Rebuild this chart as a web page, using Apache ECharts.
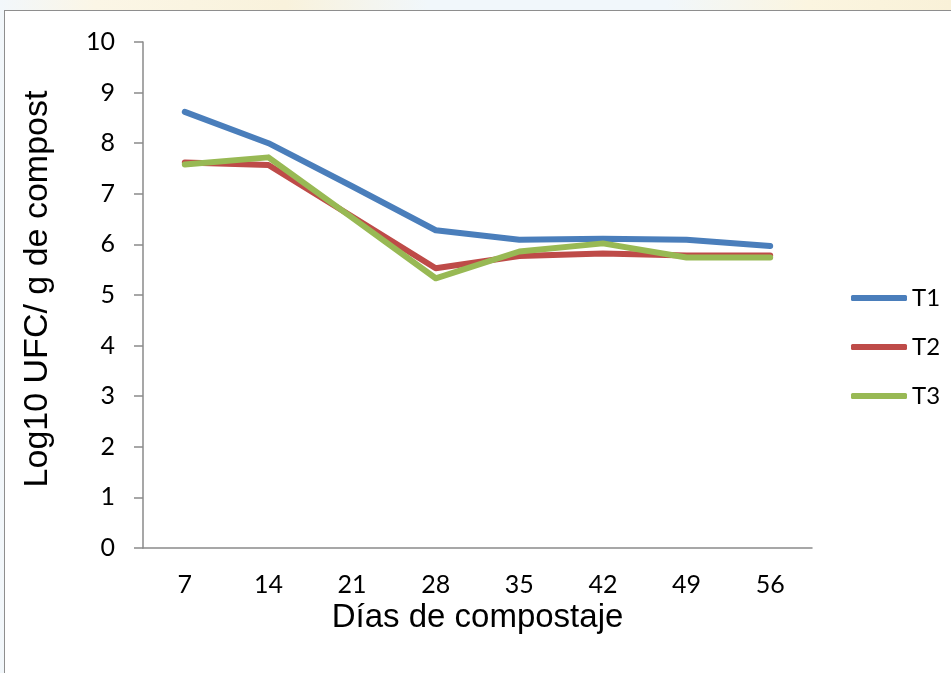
<!DOCTYPE html>
<html>
<head>
<meta charset="utf-8">
<script src="https://cdn.jsdelivr.net/npm/echarts@6/dist/echarts.min.js"></script>
<style>
  html, body { margin: 0; padding: 0; width: 951px; height: 673px; overflow: hidden; }
  body {
    background: linear-gradient(90deg, #f2f7fb 0%, #fbf6e6 10%, #f9f2dc 30%, #f1f7fb 45%, #f1f7fb 70%, #fbf5e0 85%, #f9f1d8 100%);
  }
  #panel {
    position: absolute; left: 4px; top: 10px; width: 960px; height: 680px;
    background: #ffffff; border-left: 1.5px solid #8e8e8e; border-top: 1.5px solid #8e8e8e;
  }
  #chart { position: absolute; left: 0; top: 0; width: 951px; height: 673px; }
</style>
</head>
<body>
<div id="panel"></div>
<div id="chart"></div>
<script>
// Days of composting (category axis)
const days = ['7', '14', '21', '28', '35', '42', '49', '56'];

// Log10 CFU per gram of compost for each treatment
const t1 = [8.62, 8.00, 7.15, 6.28, 6.09, 6.11, 6.09, 5.97];
const t2 = [7.62, 7.57, 6.55, 5.53, 5.77, 5.82, 5.78, 5.78];
const t3 = [7.58, 7.72, 6.53, 5.33, 5.86, 6.02, 5.74, 5.74];

const yMin = 0, yMax = 10, yStep = 1;

const chart = echarts.init(document.getElementById('chart'), null, { renderer: 'canvas' });

const axisGray = '#8a8a8a';
const tickFont = 'Lato, "Open Sans", sans-serif';
const titleFont = '"Liberation Sans", Arial, sans-serif';

function lineSeries(name, data, color) {
  return {
    name: name,
    type: 'line',
    data: data,
    symbol: 'none',
    smooth: false,
    color: color,
    lineStyle: { color: color, width: 6, cap: 'round', join: 'round' },
    emphasis: { disabled: true }
  };
}

chart.setOption({
  backgroundColor: 'transparent',
  animation: false,
  grid: { left: 143, right: 139, top: 42, bottom: 125, containLabel: false },
  legend: {
    orient: 'vertical',
    left: 846,
    top: 281,
    itemWidth: 56,
    itemHeight: 6,
    itemGap: 25,
    icon: 'roundRect',
    textStyle: { fontFamily: tickFont, fontSize: 24, color: '#000', lineHeight: 24 },
    data: ['T1', 'T2', 'T3']
  },
  xAxis: {
    type: 'category',
    data: days,
    boundaryGap: true,
    axisLine: { show: true, lineStyle: { color: axisGray, width: 1.5 } },
    axisTick: { show: false },
    axisLabel: { color: '#000', fontFamily: tickFont, fontSize: 25, margin: 24 },
    splitLine: { show: false },
    name: 'Días de compostaje',
    nameLocation: 'middle',
    nameGap: 40,
    nameTextStyle: { color: '#000', fontFamily: titleFont, fontSize: 33 }
  },
  yAxis: {
    type: 'value',
    min: yMin,
    max: yMax,
    interval: yStep,
    axisLine: { show: true, lineStyle: { color: axisGray, width: 1.5 } },
    axisTick: { show: true, inside: false, length: 9, lineStyle: { color: axisGray, width: 1.5 } },
    axisLabel: { color: '#000', fontFamily: tickFont, fontSize: 25, margin: 28 },
    splitLine: { show: false },
    name: 'Log10 UFC/ g de compost',
    nameLocation: 'middle',
    nameGap: 88,
    nameTextStyle: { color: '#000', fontFamily: titleFont, fontSize: 34, padding: [0, 0, 0, 12] }
  },
  series: [
    lineSeries('T1', t1, '#4a7ebb'),
    lineSeries('T2', t2, '#be4b48'),
    lineSeries('T3', t3, '#98b954')
  ]
});
</script>
</body>
</html>
